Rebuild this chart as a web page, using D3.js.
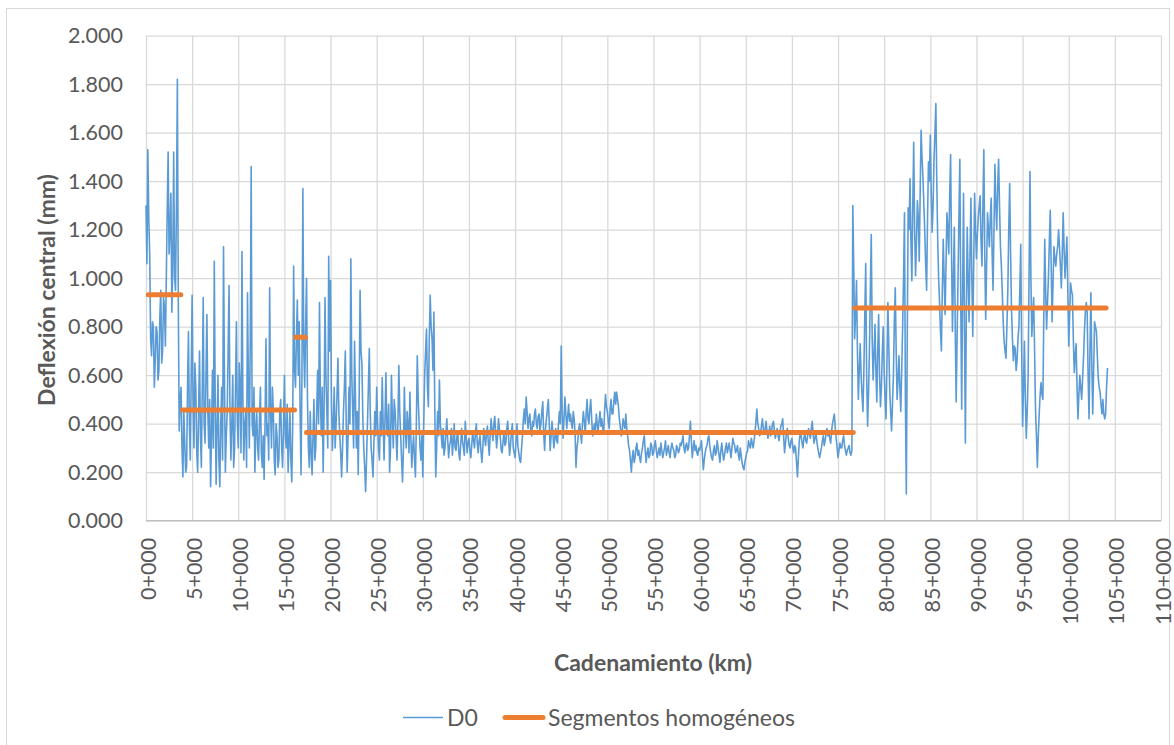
<!DOCTYPE html>
<html><head><meta charset="utf-8">
<script src="https://cdn.jsdelivr.net/npm/d3@7"></script>
<style>body{margin:0;background:#fff;overflow:hidden}</style>
</head><body>
<svg id="c" width="1174" height="745"></svg>
<script>
// ---- data ----
const yTicks = [0, 0.2, 0.4, 0.6, 0.8, 1.0, 1.2, 1.4, 1.6, 1.8, 2.0];
const xTicks = [0,5,10,15,20,25,30,35,40,45,50,55,60,65,70,75,80,85,90,95,100,105,110];
const stationStepKm = 0.1;
// D0 central deflection (mm), one row per km, one value every 100 m
const d0 = [
1.30,1.06,1.53,1.25,1.10,0.75,0.68,0.82,0.80,0.55,
0.66,0.80,0.78,0.58,0.62,0.84,0.95,0.65,0.70,0.92,
0.88,0.72,1.00,1.28,1.52,1.10,1.20,1.35,0.86,1.05,
1.52,1.00,0.95,1.30,1.82,0.90,0.37,0.50,0.55,0.30,
0.18,0.45,0.32,0.20,0.22,0.55,0.78,0.40,0.25,0.60,
0.93,0.50,0.30,0.65,0.55,0.28,0.20,0.45,0.70,0.35,
0.22,0.55,0.92,0.40,0.32,0.60,0.85,0.45,0.30,0.50,
0.14,0.35,0.62,0.30,1.07,0.50,0.15,0.38,0.60,0.25,
0.14,0.40,0.55,0.25,1.13,0.60,0.20,0.35,0.45,0.70,
0.97,0.45,0.25,0.40,0.60,0.22,0.30,0.55,0.82,0.40,
0.30,0.65,0.55,0.28,1.11,0.50,0.25,0.40,0.45,0.22,
0.94,0.55,0.30,0.75,1.46,0.40,0.35,0.55,0.20,0.38,
0.45,0.30,0.25,0.42,0.55,0.28,0.22,0.35,0.17,0.40,
0.75,0.35,0.40,0.25,0.96,0.45,0.30,0.55,0.45,0.25,
0.19,0.40,0.35,0.22,0.25,0.45,0.50,0.30,0.22,0.38,
0.60,0.35,0.30,0.48,0.20,0.32,0.45,0.25,0.16,0.40,
1.05,0.62,0.55,0.75,0.91,0.60,0.82,0.45,0.19,0.60,
1.37,0.70,0.55,0.80,1.00,0.50,0.30,0.22,0.45,0.28,
0.19,0.35,0.50,0.25,0.30,0.45,0.62,0.40,0.90,0.50,
0.35,0.55,0.20,0.45,0.92,0.60,0.45,0.30,1.09,0.70,
0.99,0.50,0.29,0.40,0.55,0.30,0.40,0.52,0.67,0.45,
0.35,0.28,0.18,0.30,0.45,0.55,0.70,0.40,0.20,0.35,
0.55,0.40,1.08,0.60,0.45,0.30,0.74,0.50,0.30,0.45,
0.19,0.50,0.95,0.70,0.65,0.42,0.30,0.22,0.12,0.25,
0.40,0.55,0.71,0.45,0.30,0.25,0.18,0.32,0.45,0.35,
0.55,0.40,0.30,0.25,0.45,0.35,0.59,0.40,0.25,0.42,
0.61,0.38,0.35,0.48,0.20,0.30,0.60,0.42,0.30,0.50,
0.45,0.35,0.25,0.40,0.64,0.45,0.35,0.25,0.16,0.30,
0.55,0.38,0.30,0.45,0.40,0.28,0.53,0.35,0.22,0.30,
0.35,0.25,0.18,0.40,0.68,0.50,0.40,0.30,0.25,0.35,
0.18,0.40,0.60,0.70,0.79,0.55,0.47,0.75,0.93,0.80,
0.75,0.62,0.86,0.45,0.18,0.30,0.45,0.35,0.58,0.40,
0.35,0.30,0.38,0.27,0.30,0.36,0.42,0.33,0.26,0.31,
0.33,0.38,0.27,0.32,0.40,0.30,0.29,0.35,0.36,0.28,
0.25,0.31,0.38,0.33,0.30,0.27,0.41,0.35,0.28,0.32,
0.34,0.29,0.26,0.31,0.37,0.33,0.30,0.36,0.40,0.32,
0.28,0.33,0.35,0.29,0.24,0.30,0.38,0.34,0.31,0.36,
0.39,0.32,0.27,0.35,0.42,0.37,0.33,0.40,0.43,0.36,
0.30,0.35,0.42,0.38,0.34,0.29,0.28,0.33,0.37,0.31,
0.32,0.38,0.41,0.34,0.27,0.31,0.36,0.40,0.30,0.28,
0.26,0.33,0.40,0.31,0.28,0.25,0.24,0.30,0.35,0.42,
0.46,0.40,0.51,0.45,0.38,0.42,0.44,0.37,0.35,0.41,
0.39,0.44,0.46,0.40,0.38,0.43,0.44,0.37,0.40,0.45,
0.49,0.36,0.29,0.38,0.42,0.46,0.50,0.40,0.29,0.35,
0.41,0.36,0.30,0.34,0.38,0.33,0.32,0.40,0.45,0.40,
0.72,0.45,0.34,0.42,0.51,0.44,0.38,0.43,0.48,0.41,
0.44,0.40,0.38,0.45,0.42,0.36,0.22,0.30,0.33,0.38,
0.40,0.36,0.32,0.40,0.45,0.41,0.36,0.44,0.50,0.42,
0.40,0.46,0.50,0.42,0.35,0.38,0.40,0.36,0.44,0.40,
0.37,0.41,0.45,0.39,0.42,0.38,0.36,0.45,0.52,0.47,
0.45,0.41,0.38,0.46,0.50,0.44,0.44,0.49,0.53,0.48,
0.53,0.50,0.47,0.42,0.39,0.35,0.36,0.42,0.40,0.38,
0.44,0.38,0.35,0.31,0.29,0.25,0.20,0.26,0.29,0.24,
0.26,0.30,0.32,0.27,0.29,0.26,0.24,0.28,0.30,0.33,
0.35,0.29,0.24,0.28,0.30,0.26,0.27,0.32,0.31,0.27,
0.28,0.31,0.33,0.29,0.26,0.28,0.30,0.27,0.32,0.29,
0.26,0.28,0.30,0.33,0.27,0.29,0.31,0.28,0.26,0.30,
0.32,0.30,0.29,0.26,0.27,0.31,0.30,0.28,0.29,0.32,
0.31,0.33,0.35,0.30,0.28,0.31,0.32,0.29,0.30,0.35,
0.41,0.33,0.26,0.30,0.33,0.29,0.31,0.28,0.27,0.30,
0.29,0.31,0.33,0.27,0.21,0.25,0.28,0.30,0.31,0.34,
0.35,0.31,0.28,0.26,0.25,0.29,0.31,0.27,0.28,0.33,
0.30,0.27,0.24,0.29,0.32,0.28,0.25,0.27,0.30,0.32,
0.28,0.30,0.32,0.29,0.26,0.30,0.34,0.32,0.31,0.28,
0.29,0.31,0.27,0.25,0.30,0.27,0.24,0.22,0.21,0.24,
0.26,0.28,0.29,0.33,0.31,0.30,0.34,0.32,0.30,0.33,
0.36,0.41,0.46,0.40,0.38,0.35,0.36,0.39,0.42,0.38,
0.36,0.38,0.41,0.37,0.34,0.36,0.39,0.35,0.37,0.40,
0.41,0.37,0.34,0.36,0.38,0.35,0.33,0.36,0.39,0.40,
0.42,0.35,0.28,0.32,0.36,0.38,0.34,0.31,0.30,0.33,
0.34,0.30,0.28,0.31,0.30,0.24,0.18,0.26,0.33,0.36,
0.35,0.32,0.30,0.34,0.36,0.33,0.32,0.35,0.38,0.36,
0.34,0.38,0.41,0.36,0.32,0.34,0.36,0.33,0.30,0.28,
0.26,0.28,0.30,0.33,0.35,0.31,0.33,0.36,0.38,0.35,
0.36,0.34,0.32,0.37,0.40,0.42,0.44,0.38,0.34,0.30,
0.26,0.29,0.32,0.30,0.30,0.33,0.35,0.31,0.29,0.27,
0.29,0.30,0.31,0.28,0.27,0.29,1.30,1.05,0.75,0.85,
0.99,0.70,0.50,0.62,0.73,0.60,0.52,0.45,0.62,0.85,
1.06,0.60,0.39,0.52,0.70,0.95,1.18,0.75,0.58,0.68,
0.81,0.62,0.49,0.70,0.85,0.60,0.47,0.55,0.70,0.80,
0.61,0.50,0.42,0.65,0.90,0.72,0.54,0.45,0.37,0.48,
0.60,0.82,0.96,0.70,0.50,0.58,0.68,0.55,0.45,0.62,
0.80,1.00,1.27,0.50,0.11,0.75,1.29,1.20,1.41,1.15,
0.99,1.30,1.56,1.20,1.01,1.15,1.32,1.25,1.07,1.35,
1.61,1.50,1.42,1.30,1.19,1.05,0.95,1.25,1.48,1.40,
1.59,1.35,1.19,1.30,1.49,1.60,1.72,1.40,1.16,1.00,
0.90,0.78,0.70,0.95,1.16,1.00,0.85,1.05,1.27,1.20,
1.10,1.35,1.51,1.10,0.78,1.00,1.21,0.80,0.49,0.75,
0.99,1.25,1.49,0.90,0.46,0.95,1.35,0.80,0.32,0.85,
1.21,1.00,0.82,1.10,1.33,1.00,0.76,1.05,1.35,1.20,
1.08,1.18,1.25,1.30,1.34,1.15,1.05,1.30,1.53,1.10,
0.83,1.05,1.27,1.20,1.13,1.25,1.33,1.10,0.95,1.20,
1.47,1.30,1.20,1.38,1.49,1.30,1.13,1.05,0.94,0.82,
0.74,0.70,0.67,0.80,0.95,1.20,1.39,1.10,0.87,0.75,
0.66,0.72,0.71,0.62,0.66,0.75,0.80,0.95,1.14,0.70,
0.39,0.55,0.74,0.50,0.34,0.45,0.60,1.00,1.44,1.00,
0.76,0.85,0.92,0.70,0.46,0.35,0.22,0.35,0.44,0.52,
0.57,0.52,0.50,0.85,1.16,0.95,0.79,0.90,1.00,1.15,
1.28,1.05,0.82,0.98,1.13,1.08,1.05,1.10,1.13,1.20,
1.13,1.05,0.96,1.10,1.27,1.12,1.00,1.08,1.17,0.95,
0.72,0.85,0.98,0.95,0.93,0.75,0.61,0.68,0.73,0.55,
0.42,0.52,0.60,0.55,0.50,0.58,0.67,0.78,0.86,0.90,
0.86,0.60,0.42,0.70,0.94,0.65,0.44,0.62,0.82,0.80,
0.78,0.68,0.59,0.55,0.53,0.48,0.44,0.50,0.44,0.42,
0.44,0.55,0.63
];
const segStartKm = [0.25, 3.95, 16.2, 17.4, 76.8];
const segEndKm   = [3.77, 16.1, 17.3, 76.65, 104.05];
const segValue   = [0.932, 0.457, 0.756, 0.364, 0.877];
const seriesNames = ["D0", "Segmentos homogéneos"];

// ---- layout ----
const FONT = "Lato, 'Open Sans', sans-serif";
const TICK_FS = 21.5, TITLE_FS = 23, LEG_FS = 23;
const X0 = 146, X1 = 1161, Y0 = 520.7, Y1 = 35.7;
const svg = d3.select("#c");
const x = d3.scaleLinear().domain([0, 110]).range([X0, X1]);
const y = d3.scaleLinear().domain([0, 2]).range([Y0, Y1]);

svg.append("rect").attr("x", 6.5).attr("y", 8.5).attr("width", 1163).attr("height", 745)
  .attr("fill", "#fff").attr("stroke", "#D9D9D9").attr("stroke-width", 1);

// gridlines
svg.append("g").attr("transform", `translate(${X0},0)`)
  .call(d3.axisLeft(y).tickValues(yTicks).tickSize(-(X1 - X0)).tickFormat(""))
  .call(g => g.select(".domain").remove())
  .call(g => g.selectAll("line").attr("stroke", "#D9D9D9").attr("stroke-width", 1.3));
svg.append("g").attr("transform", `translate(0,${Y0})`)
  .call(d3.axisBottom(x).tickValues(xTicks).tickSize(-(Y0 - Y1)).tickFormat(""))
  .call(g => g.select(".domain").remove())
  .call(g => g.selectAll("line").attr("stroke", "#D9D9D9").attr("stroke-width", 1.3));
svg.append("line").attr("x1", X0).attr("x2", X1).attr("y1", Y0).attr("y2", Y0)
  .attr("stroke", "#BFBFBF").attr("stroke-width", 1.3);

// y tick labels
const ya = svg.append("g").attr("transform", `translate(${X0},0)`)
  .call(d3.axisLeft(y).tickValues(yTicks).tickSize(0).tickPadding(23).tickFormat(d3.format(".3f")));
ya.select(".domain").remove();
ya.selectAll("text").attr("font-family", FONT).attr("font-size", TICK_FS).attr("fill", "#595959");

// x tick labels
const xa = svg.append("g").attr("transform", `translate(0,${Y0})`)
  .call(d3.axisBottom(x).tickValues(xTicks).tickSize(0).tickFormat(d => d + "+000"));
xa.select(".domain").remove();
xa.selectAll("text").attr("font-family", FONT).attr("font-size", TICK_FS).attr("fill", "#595959")
  .attr("text-anchor", "end").attr("dy", null).attr("y", 0)
  .attr("transform", "translate(1,17) rotate(-90)").attr("dominant-baseline", "central");

// series D0
const pts = d0.map((v, i) => [i * stationStepKm, v]);
svg.append("path").datum(pts)
  .attr("d", d3.line().x(d => x(d[0])).y(d => y(d[1])))
  .attr("fill", "none").attr("stroke", "#5B9BD5").attr("stroke-width", 1.6).attr("stroke-linejoin", "round");

// homogeneous segments
svg.append("g").selectAll("line").data(segValue).join("line")
  .attr("x1", (d, i) => x(segStartKm[i])).attr("x2", (d, i) => x(segEndKm[i]))
  .attr("y1", d => y(d)).attr("y2", d => y(d))
  .attr("stroke", "#ED7D31").attr("stroke-width", 5).attr("stroke-linecap", "round");

// axis titles
svg.append("text").attr("x", 653).attr("y", 671).attr("text-anchor", "middle")
  .attr("font-family", FONT).attr("font-weight", "bold").attr("font-size", TITLE_FS).attr("fill", "#595959")
  .text("Cadenamiento (km)");
svg.append("text").attr("transform", "translate(55,290) rotate(-90)").attr("text-anchor", "middle")
  .attr("font-family", FONT).attr("font-weight", "bold").attr("font-size", TITLE_FS).attr("fill", "#595959")
  .text("Deflexión central (mm)");

// legend
const lg = svg.append("g");
lg.append("line").attr("x1", 403).attr("x2", 443).attr("y1", 717.5).attr("y2", 717.5)
  .attr("stroke", "#5B9BD5").attr("stroke-width", 1.7);
lg.append("text").attr("x", 447).attr("y", 725.5).attr("font-family", FONT).attr("font-size", LEG_FS)
  .attr("fill", "#595959").text(seriesNames[0]);
lg.append("line").attr("x1", 505).attr("x2", 543).attr("y1", 717.5).attr("y2", 717.5)
  .attr("stroke", "#ED7D31").attr("stroke-width", 5).attr("stroke-linecap", "round");
lg.append("text").attr("x", 548).attr("y", 725.5).attr("font-family", FONT).attr("font-size", LEG_FS)
  .attr("fill", "#595959").text(seriesNames[1]);
</script>
</body></html>
